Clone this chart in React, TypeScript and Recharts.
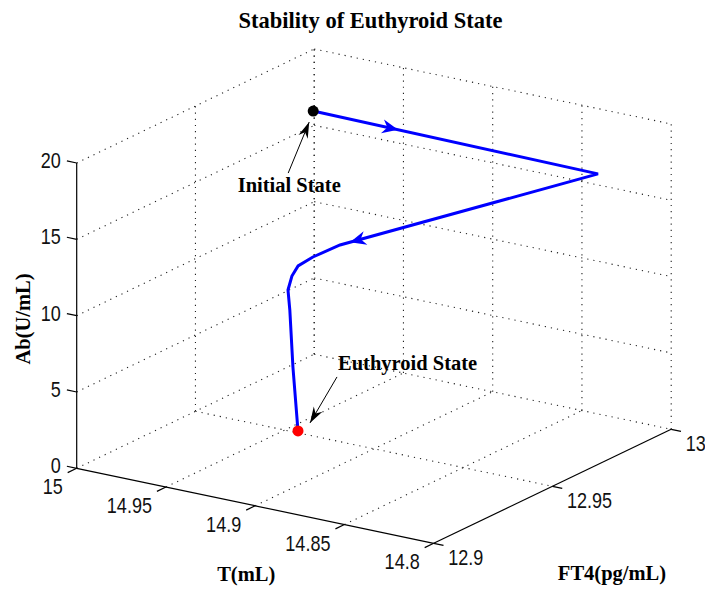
import React from 'react';
import { ScatterChart, Scatter, XAxis, YAxis, ReferenceLine } from 'recharts';

// axis ticks of the 3-D box
const tTicks = [15, 14.95, 14.9, 14.85, 14.8];
const ft4Ticks = [12.9, 12.95, 13];
const abTicks = [0, 5, 10, 15, 20];

// trajectory from the initial state to the euthyroid state
const pathT = [14.95, 14.8128, 14.9238, 14.937, 14.9417, 14.9421, 14.9447, 14.9438, 14.9422, 14.9379];
const pathFT4 = [12.962, 12.9788, 12.9536, 12.9521, 12.9494, 12.9471, 12.9474, 12.9475, 12.9476, 12.9465];
const pathAb = [20, 18, 12.5, 11.5, 11, 10.5, 9.5, 8.2, 4.5, 0.5];

// direction arrows sitting on the trajectory (and the path point they come from)
const arrowT = [14.9091, 14.9195];
const arrowFT4 = [12.967, 12.9546];
const arrowAb = [19.4, 12.71];
const arrowFrom = [0, 1];

const stateNames = ['Initial State', 'Euthyroid State'];
const stateIndex = [0, pathT.length - 1];

const W = 705;
const H = 592;

// orthographic view of the box, screen vectors of each full axis span
const ORIGIN = { x: 76.7, y: 468.3 };
const T_VEC = { x: 357, y: 75 };
const F_VEC = { x: 237.5, y: -114 };
const AB_VEC = { x: 0, y: -305.3 };

const T0 = tTicks[0];
const T1 = tTicks[tTicks.length - 1];
const F0 = ft4Ticks[0];
const F1 = ft4Ticks[ft4Ticks.length - 1];
const A0 = abTicks[0];
const A1 = abTicks[abTicks.length - 1];

const proj = (t: number, f: number, ab: number) => {
  const a = (t - T0) / (T1 - T0);
  const b = (f - F0) / (F1 - F0);
  const c = (ab - A0) / (A1 - A0);
  return {
    sx: ORIGIN.x + a * T_VEC.x + b * F_VEC.x + c * AB_VEC.x,
    sy: ORIGIN.y + a * T_VEC.y + b * F_VEC.y + c * AB_VEC.y,
  };
};

type Seg = { p: { sx: number; sy: number }; q: { sx: number; sy: number } };

// dotted grid on the floor and the two back walls
const gridSegs: Seg[] = [];
tTicks.forEach(t => {
  if (t !== T1) gridSegs.push({ p: proj(t, F0, A0), q: proj(t, F1, A0) });
  gridSegs.push({ p: proj(t, F1, A0), q: proj(t, F1, A1) });
});
ft4Ticks.forEach(f => {
  if (f !== F0) gridSegs.push({ p: proj(T0, f, A0), q: proj(T1, f, A0) });
  if (f !== F0) gridSegs.push({ p: proj(T0, f, A0), q: proj(T0, f, A1) });
});
abTicks.forEach(ab => {
  if (ab === A0) return;
  gridSegs.push({ p: proj(T0, F0, ab), q: proj(T0, F1, ab) });
  gridSegs.push({ p: proj(T0, F1, ab), q: proj(T1, F1, ab) });
});

// solid axes and their outward tick marks
const TICK_T = 0.0055;
const TICK_F = 0.0038;
const axisSegs: Seg[] = [
  { p: proj(T0, F0, A0), q: proj(T0, F0, A1) },
  { p: proj(T0, F0, A0), q: proj(T1, F0, A0) },
  { p: proj(T1, F0, A0), q: proj(T1, F1, A0) },
];
abTicks.forEach(ab => axisSegs.push({ p: proj(T0, F0, ab), q: proj(T0 + TICK_T, F0, ab) }));
tTicks.forEach(t => axisSegs.push({ p: proj(t, F0, A0), q: proj(t, F0 - TICK_F, A0) }));
ft4Ticks.forEach(f => axisSegs.push({ p: proj(T1, f, A0), q: proj(T1 - TICK_T, f, A0) }));

const abLabels = abTicks.map(ab => ({ ...proj(T0, F0, ab), label: String(ab) }));
const tLabels = tTicks.map(t => ({ ...proj(t, F0, A0), label: String(t) }));
const ftLabels = ft4Ticks.map(f => ({ ...proj(T1, f, A0), label: String(f) }));

const pathData = pathT.map((t, i) => proj(t, pathFT4[i], pathAb[i]));
const arrowData = arrowT.map((t, i) => {
  const from = pathData[arrowFrom[i]];
  return { ...proj(t, arrowFT4[i], arrowAb[i]), fx: from.sx, fy: from.sy };
});
const stateData = stateIndex.map((k, i) => ({ ...pathData[k], name: stateNames[i] }));

const SANS = "'Liberation Sans', Arial, Helvetica, sans-serif";
const SERIF = "'Liberation Serif', 'Times New Roman', serif";

const tickLabel = (dx: number, dy: number, anchor: 'start' | 'end') => (props: any) => {
  const { cx, cy, payload } = props;
  return (
    <text
      transform={`translate(${cx + dx},${cy + dy}) scale(0.82,1)`}
      textAnchor={anchor}
      fontFamily={SANS}
      fontSize={22}
      fill="#111"
    >
      {payload.label}
    </text>
  );
};

const axisTitle = (dx: number, dy: number, text: string, rotate = 0) => (props: any) => {
  const { cx, cy } = props;
  return (
    <text
      transform={`translate(${cx + dx},${cy + dy}) rotate(${rotate})`}
      textAnchor="middle"
      fontFamily={SERIF}
      fontWeight="bold"
      fontSize={20.5}
      fill="#000"
    >
      {text}
    </text>
  );
};

const rot = (cx: number, cy: number, ang: number, pts: number[][]) =>
  pts
    .map(([x, y]) => `${cx + x * Math.cos(ang) - y * Math.sin(ang)},${cy + x * Math.sin(ang) + y * Math.cos(ang)}`)
    .join(' ');

const PathArrow = (props: any) => {
  const { cx, cy, payload } = props;
  const ang = Math.atan2(payload.sy - payload.fy, payload.sx - payload.fx);
  return <polygon points={rot(cx, cy, ang, [[0, 0], [-16, -7], [-11, 0], [-16, 7]])} fill="#0000ff" />;
};

// annotation offsets (px) relative to each marked state
const NOTES = [
  { tip: [-4, 11], tail: [-25, 62], text: [-24, 81], anchor: 'middle', color: '#000' },
  { tip: [12, -8], tail: [39, -54], text: [40, -61], anchor: 'start', color: '#ff0000' },
];

const StateMark = (props: any) => {
  const { cx, cy, index } = props;
  const n = NOTES[index];
  const tx = cx + n.tip[0];
  const ty = cy + n.tip[1];
  const ang = Math.atan2(n.tip[1] - n.tail[1], n.tip[0] - n.tail[0]);
  return (
    <g>
      <circle cx={cx} cy={cy} r={5.5} fill={n.color} />
      <line x1={cx + n.tail[0]} y1={cy + n.tail[1]} x2={tx} y2={ty} stroke="#000" strokeWidth={1} />
      <polygon points={rot(tx, ty, ang, [[0, 0], [-16, -5], [-11, 0], [-16, 5]])} fill="#000" />
      <text
        x={cx + n.text[0]}
        y={cy + n.text[1]}
        textAnchor={n.anchor as any}
        fontFamily={SERIF}
        fontWeight="bold"
        fontSize={20.5}
        fill="#000"
      >
        {stateNames[index]}
      </text>
    </g>
  );
};

const nothing = () => <g />;

const App: React.FC = () => {
  const tMid = proj((T0 + T1) / 2, F0, A0);
  const fMid = proj(T1, (F0 + F1) / 2, A0);
  const aMid = proj(T0, F0, (A0 + A1) / 2);

  return (
    <div style={{ position: 'absolute', left: 0, top: 0, width: W, height: H, background: '#fff' }}>
      <ScatterChart width={W} height={H} margin={{ top: 0, right: 0, bottom: 0, left: 0 }}>
        <XAxis type="number" dataKey="sx" domain={[0, W]} allowDataOverflow hide />
        <YAxis type="number" dataKey="sy" domain={[0, H]} allowDataOverflow reversed hide />

        {gridSegs.map((s, i) => (
          <ReferenceLine
            key={`g${i}`}
            segment={[{ x: s.p.sx, y: s.p.sy }, { x: s.q.sx, y: s.q.sy }]}
            stroke="#222"
            strokeWidth={1.1}
            strokeDasharray="1.2 5"
            ifOverflow="visible"
          />
        ))}
        {axisSegs.map((s, i) => (
          <ReferenceLine
            key={`a${i}`}
            segment={[{ x: s.p.sx, y: s.p.sy }, { x: s.q.sx, y: s.q.sy }]}
            stroke="#000"
            strokeWidth={1.2}
            ifOverflow="visible"
          />
        ))}

        <Scatter data={abLabels} shape={tickLabel(-16, 5, 'end')} isAnimationActive={false} />
        <Scatter data={tLabels} shape={tickLabel(-14, 26, 'end')} isAnimationActive={false} />
        <Scatter data={ftLabels} shape={tickLabel(14.5, 22, 'start')} isAnimationActive={false} />

        <Scatter data={[tMid]} shape={axisTitle(-9, 75, 'T(mL)')} isAnimationActive={false} />
        <Scatter data={[fMid]} shape={axisTitle(59.5, 94, 'FT4(pg/mL)')} isAnimationActive={false} />
        <Scatter data={[aMid]} shape={axisTitle(-47, 3.4, 'Ab(U/mL)', -90)} isAnimationActive={false} />

        <Scatter
          data={pathData}
          line={{ stroke: '#0000ff', strokeWidth: 3 }}
          lineType="joint"
          shape={nothing}
          isAnimationActive={false}
        />
        <Scatter data={arrowData} shape={PathArrow} isAnimationActive={false} />
        <Scatter data={stateData} shape={StateMark} isAnimationActive={false} />
      </ScatterChart>
      <div
        style={{
          position: 'absolute',
          left: 0,
          top: 8,
          width: 741,
          textAlign: 'center',
          fontFamily: SERIF,
          fontWeight: 'bold',
          fontSize: 22.5,
          lineHeight: '26px',
          color: '#000',
        }}
      >
        Stability of Euthyroid State
      </div>
    </div>
  );
};

export default App;
